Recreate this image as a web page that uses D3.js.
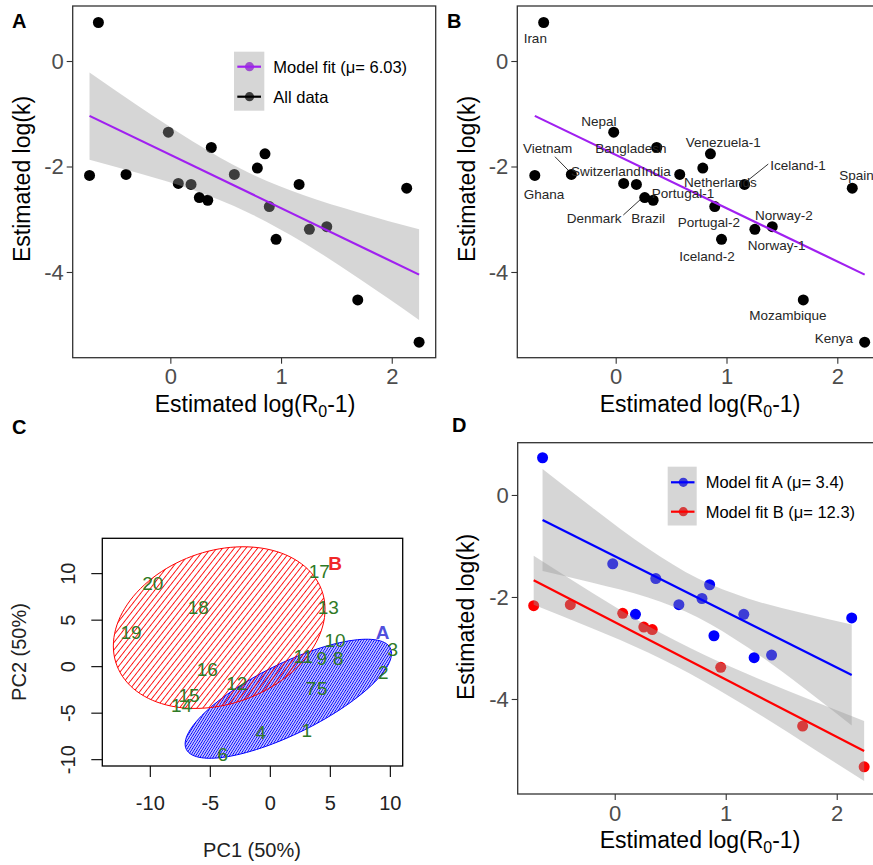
<!DOCTYPE html>
<html><head><meta charset="utf-8">
<script src="https://cdn.jsdelivr.net/npm/d3@7"></script>
<style>
body{margin:0;background:#fff}
svg{display:block}
</style></head><body>
<svg id="chart" width="873" height="865"></svg>
<script>
// ---------------- DATA ----------------
const countries = ["Iran","Ghana","Vietnam","Nepal","Switzerland","Portugal-1","Denmark","Brazil","Bangladesh","India","Netherlands","Venezuela-1","Portugal-2","Iceland-2","Iceland-1","Norway-1","Norway-2","Mozambique","Spain","Kenya"];
const logR0m1 = [-0.65,-0.73,-0.40,-0.018,0.072,0.187,0.262,0.338,0.37,0.578,0.786,0.855,0.894,0.955,1.163,1.256,1.413,1.693,2.135,2.247];
const logK    = [0.73,-2.17,-2.15,-1.35,-2.32,-2.34,-2.59,-2.64,-1.64,-2.15,-2.03,-1.76,-2.76,-3.38,-2.34,-3.19,-3.14,-4.53,-2.41,-5.33];
const cluster = ["A","B","B","A","B","A","B","B","A","A","A","A","A","B","A","A","A","B","A","B"];

// overall model fit (panel A/B) and confidence band
const fitX  = [-0.73,-0.3,0.2,0.7,1.2,1.7,2.247];
const fitY  = [-1.04,-1.48,-1.98,-2.49,-2.99,-3.50,-4.05];
const fitLo = [-1.87,-2.12,-2.44,-2.87,-3.44,-4.12,-4.91];
const fitHi = [-0.22,-0.84,-1.52,-2.11,-2.54,-2.87,-3.19];

// cluster fits (panel D)
const fitAX  = [-0.65,-0.2,0.3,0.75,1.2,1.7,2.135];
const fitAY  = [-0.49,-0.98,-1.53,-2.02,-2.51,-3.05,-3.53];
const fitAHi = [0.51,-0.25,-1.05,-1.64,-2.03,-2.32,-2.54];
const fitALo = [-1.49,-1.72,-2.01,-2.40,-2.99,-3.78,-4.52];
const fitBX  = [-0.73,-0.2,0.3,0.8,1.3,1.8,2.247];
const fitBY  = [-1.67,-2.27,-2.83,-3.39,-3.96,-4.52,-5.02];
const fitBHi = [-1.19,-1.92,-2.57,-3.13,-3.61,-4.05,-4.43];
const fitBLo = [-2.15,-2.62,-3.09,-3.65,-4.30,-4.99,-5.61];

// PCA (panel C)
const pcIds = ["1","2","3","4","5","6","7","8","9","10","11","12","13","14","15","16","17","18","19","20"];
const pc1 = [3.03,9.42,10.2,-0.8,4.33,-3.97,3.39,5.67,4.28,5.39,2.75,-2.8,4.83,-7.4,-6.78,-5.25,4.08,-6.0,-11.6,-9.8];
const pc2 = [-6.8,-0.54,1.9,-6.99,-2.32,-9.42,-2.32,0.9,0.9,2.87,1.08,-1.79,6.39,-4.19,-3.04,-0.28,10.3,6.39,3.66,9.03];
const ellGroup = ["A","B"];
const ellCx = [1.5,-4.26];
const ellCy = [-3.45,4.2];
const ellRx = [8.6,8.82];
const ellRy = [6.4,8.69];
const ellTilt = [0.863,0.229];
const groupLabelX = [9.35,5.39];
const groupLabelY = [3.76,11.1];

// ticks / text
const xTicksK = [0,1,2];
const yTicksK = [0,-2,-4];
const pcTicks = [-10,-5,0,5,10];
const legendA = ["Model fit (\u03bc= 6.03)","All data"];
const legendD = ["Model fit A (\u03bc= 3.4)","Model fit B (\u03bc= 12.3)"];
const panelLetters = ["A","B","C","D"];

// label layout for panel B (pixel offsets from point)
const labDx = [-8.4,9.2,-23.7,-14.9,-17.7,46.6,-50.7,-5.1,-25.9,-23.7,17.7,12.9,-5.8,-14.5,53.4,21.8,11.7,-15.3,4.3,-30.7];
const labDy = [20.2,23.8,-21.7,-6.5,-7.4,13.9,25.7,23,5.2,1.6,19.2,-6.5,20.7,21.4,-14.4,20.7,-6.6,20,-8.1,1.1];
const connectors = {"Vietnam":[-16.4,-17.7,-3,-4],"Denmark":[-21.4,17.4,-3,0.7],"Iceland-1":[23.7,-20.4,3.7,-4.4]};

// ---------------- DRAWING ----------------
const FONT = "Arial, 'Liberation Sans', Helvetica, sans-serif";
const svg = d3.select("#chart").attr("font-family", FONT);
const PURPLE = "#A020F0", BLUE = "#0000FF", RED = "#FF0000";
const pts = countries.map((c,i)=>({c, x:logR0m1[i], y:logK[i], g:cluster[i], dx:labDx[i], dy:labDy[i]}));

function ggAxes(g, x, y, box){
  const xa = g.append("g").attr("transform",`translate(0,${box.y1})`)
    .call(d3.axisBottom(x).tickValues(xTicksK).tickSize(6).tickPadding(5).tickFormat(d=>String(d)));
  const ya = g.append("g").attr("transform",`translate(${box.x0},0)`)
    .call(d3.axisLeft(y).tickValues(yTicksK).tickSize(6).tickPadding(3).tickFormat(d=>String(d)));
  [xa,ya].forEach(a=>{
    a.select(".domain").remove();
    a.selectAll("line").attr("stroke","#333").attr("stroke-width",1.1);
    a.selectAll("text").attr("fill","#4d4d4d").attr("font-size",22).attr("font-family",FONT);
  });
  g.append("rect").attr("x",box.x0).attr("y",box.y0).attr("width",box.x1-box.x0).attr("height",box.y1-box.y0)
    .attr("fill","none").attr("stroke","#333").attr("stroke-width",1.3);
}
function xTitle(g, cx, by){
  const t = g.append("text").attr("x",cx).attr("y",by).attr("text-anchor","middle").attr("font-size",23).attr("fill","#000");
  t.append("tspan").text("Estimated log(R");
  t.append("tspan").attr("font-size",16).attr("dy",5).text("0");
  t.append("tspan").attr("dy",-5).text("-1)");
}
function yTitle(g, bx, cy){
  g.append("text").attr("transform",`translate(${bx},${cy}) rotate(-90)`).attr("text-anchor","middle")
    .attr("font-size",23).attr("fill","#000").text("Estimated log(k)");
}
function band(g, x, y, xs, lo, hi){
  const area = d3.area().x((d,i)=>x(xs[i])).y0((d,i)=>y(lo[i])).y1((d,i)=>y(hi[i])).curve(d3.curveMonotoneX);
  g.append("path").attr("d",area(xs)).attr("fill","#999").attr("fill-opacity",0.4);
}
function fitLine(g, x, y, xs, ys, col){
  g.append("line").attr("x1",x(xs[0])).attr("y1",y(ys[0])).attr("x2",x(xs[xs.length-1])).attr("y2",y(ys[ys.length-1]))
    .attr("stroke",col).attr("stroke-width",2.2);
}
function letter(t, x, y){
  svg.append("text").attr("x",x).attr("y",y).attr("font-size",20).attr("font-weight","bold").attr("fill","#000").text(t);
}

// ----- Panel A -----
{
  const box = {x0:72.7, x1:435.7, y0:6, y1:357.7};
  const x = d3.scaleLinear().domain([-0.882,2.397]).range([box.x0,box.x1]);
  const y = d3.scaleLinear().domain([1.043,-5.625]).range([box.y0,box.y1]);
  const g = svg.append("g");
  g.selectAll("circle").data(pts).join("circle").attr("cx",d=>x(d.x)).attr("cy",d=>y(d.y)).attr("r",5.5).attr("fill","#000");
  band(g,x,y,fitX,fitLo,fitHi);
  fitLine(g,x,y,fitX,fitY,PURPLE);
  ggAxes(g,x,y,box);
  xTitle(g,255,412);
  yTitle(g,30,179);
  const lg = g.append("g");
  const cols = [PURPLE,"#000"];
  legendA.forEach((t,i)=>{
    lg.append("circle").attr("cx",249.5).attr("cy",66.7 + i*30).attr("r",4.6).attr("fill",cols[i]);
  });
  lg.append("rect").attr("x",234).attr("y",51.7).attr("width",30.3).attr("height",59).attr("fill","#999").attr("fill-opacity",0.4);
  legendA.forEach((t,i)=>{
    const cy = 66.7 + i*30;
    lg.append("line").attr("x1",237.3).attr("x2",261).attr("y1",cy).attr("y2",cy).attr("stroke",cols[i]).attr("stroke-width",2.2);
    lg.append("text").attr("x",273.3).attr("y",cy+6).attr("font-size",16.5).attr("fill","#000").text(t);
  });
  letter(panelLetters[0],12,28);
}

// ----- Panel B -----
{
  const box = {x0:517.3, x1:880.3, y0:6, y1:357.7};
  const x = d3.scaleLinear().domain([-0.888,2.388]).range([box.x0,box.x1]);
  const y = d3.scaleLinear().domain([1.043,-5.625]).range([box.y0,box.y1]);
  const g = svg.append("g");
  g.selectAll("line.conn").data(pts.filter(d=>connectors[d.c])).join("line").attr("class","conn")
    .attr("x1",d=>x(d.x)+connectors[d.c][0]).attr("y1",d=>y(d.y)+connectors[d.c][1])
    .attr("x2",d=>x(d.x)+connectors[d.c][2]).attr("y2",d=>y(d.y)+connectors[d.c][3])
    .attr("stroke","#000").attr("stroke-width",0.8);
  g.selectAll("circle").data(pts).join("circle").attr("cx",d=>x(d.x)).attr("cy",d=>y(d.y)).attr("r",5.5).attr("fill","#000");
  fitLine(g,x,y,fitX,fitY,PURPLE);
  g.selectAll("text.lab").data(pts).join("text").attr("class","lab")
    .attr("x",d=>x(d.x)+d.dx).attr("y",d=>y(d.y)+d.dy).attr("text-anchor","middle")
    .attr("font-size",13.5).attr("fill","#262626").text(d=>d.c);
  ggAxes(g,x,y,box);
  xTitle(g,700,412);
  yTitle(g,475,179);
  letter(panelLetters[1],447,28);
}

// ----- Panel C -----
{
  const box = {x0:102.3, x1:402.7, y0:538.3, y1:766};
  const x = d3.scaleLinear().domain([-14.0,11.03]).range([box.x0,box.x1]);
  const y = d3.scaleLinear().domain([13.8,-10.68]).range([box.y0,box.y1]);
  const g = svg.append("g");
  const defs = svg.append("defs");
  const pat = (id, col, sp, ang, w) => {
    const p = defs.append("pattern").attr("id",id).attr("patternUnits","userSpaceOnUse")
      .attr("width",20).attr("height",sp).attr("patternTransform",`rotate(${ang})`);
    p.append("line").attr("x1",0).attr("x2",20).attr("y1",sp/2).attr("y2",sp/2).attr("stroke",col).attr("stroke-width",w);
  };
  pat("hatchA",BLUE,2.2,-58,1.1);
  pat("hatchB",RED,4.6,-52,0.9);
  const ells = ellGroup.map((gname,i)=>({g:gname, cx:ellCx[i], cy:ellCy[i], rx:ellRx[i], ry:ellRy[i], t:ellTilt[i]}));
  const ellPath = e => {
    const n = 120;
    const p = d3.range(n).map(k=>{ const a = 2*Math.PI*k/n; return [x(e.cx + e.rx*Math.cos(a)), y(e.cy + e.ry*Math.sin(a+e.t))]; });
    return d3.line()(p) + "Z";
  };
  ells.forEach(e=>{
    const col = e.g==="A"?BLUE:RED;
    g.append("path").attr("d",ellPath(e)).attr("fill",`url(#hatch${e.g})`).attr("stroke",col).attr("stroke-width",1);
  });
  g.append("rect").attr("x",box.x0).attr("y",box.y0).attr("width",box.x1-box.x0).attr("height",box.y1-box.y0)
    .attr("fill","none").attr("stroke","#000").attr("stroke-width",1.3);
  pcTicks.forEach(t=>{
    g.append("line").attr("x1",x(t)).attr("x2",x(t)).attr("y1",box.y1).attr("y2",box.y1+11).attr("stroke","#000").attr("stroke-width",1.1);
    g.append("text").attr("x",x(t)).attr("y",810).attr("text-anchor","middle").attr("font-size",20).attr("fill","#222").text(String(t));
    g.append("line").attr("y1",y(t)).attr("y2",y(t)).attr("x1",box.x0).attr("x2",box.x0-11).attr("stroke","#000").attr("stroke-width",1.1);
    g.append("text").attr("transform",`translate(75,${y(t)}) rotate(-90)`).attr("text-anchor","middle").attr("font-size",20).attr("fill","#222").text(String(t));
  });
  g.append("text").attr("x",252).attr("y",857).attr("text-anchor","middle").attr("font-size",20).attr("fill","#222").text("PC1 (50%)");
  g.append("text").attr("transform",`translate(26,652) rotate(-90)`).attr("text-anchor","middle").attr("font-size",20).attr("fill","#222").text("PC2 (50%)");
  g.selectAll("text.pc").data(pcIds).join("text").attr("class","pc")
    .attr("x",(d,i)=>x(pc1[i])).attr("y",(d,i)=>y(pc2[i])).attr("dy","0.36em").attr("text-anchor","middle")
    .attr("font-size",19).attr("fill","#2f7a26").text(d=>d);
  ellGroup.forEach((gname,i)=>{
    g.append("text").attr("x",x(groupLabelX[i])).attr("y",y(groupLabelY[i])).attr("dy","0.36em").attr("text-anchor","middle")
      .attr("font-size",19).attr("font-weight","bold").attr("fill",gname==="A"?"#5050dd":"#f02828").text(gname);
  });
  letter(panelLetters[2],12,434);
}

// ----- Panel D -----
{
  const box = {x0:517.7, x1:880.8, y0:442.7, y1:794};
  const x = d3.scaleLinear().domain([-0.874,2.397]).range([box.x0,box.x1]);
  const y = d3.scaleLinear().domain([1.025,-5.863]).range([box.y0,box.y1]);
  const g = svg.append("g");
  g.selectAll("circle").data(pts).join("circle").attr("cx",d=>x(d.x)).attr("cy",d=>y(d.y)).attr("r",5.5)
    .attr("fill",d=>d.g==="A"?BLUE:RED);
  band(g,x,y,fitAX,fitALo,fitAHi);
  band(g,x,y,fitBX,fitBLo,fitBHi);
  fitLine(g,x,y,fitAX,fitAY,BLUE);
  fitLine(g,x,y,fitBX,fitBY,RED);
  ggAxes(g,x,y,box);
  xTitle(g,700,848);
  yTitle(g,474,617);
  const lg = g.append("g");
  const cols = [BLUE,RED];
  legendD.forEach((t,i)=>{
    lg.append("circle").attr("cx",683.3).attr("cy",482.3+i*29.4).attr("r",4.6).attr("fill",cols[i]);
  });
  lg.append("rect").attr("x",667.7).attr("y",466.7).attr("width",29).attr("height",58.8).attr("fill","#999").attr("fill-opacity",0.4);
  legendD.forEach((t,i)=>{
    const cy = 482.3+i*29.4;
    lg.append("line").attr("x1",671).attr("x2",694.5).attr("y1",cy).attr("y2",cy).attr("stroke",cols[i]).attr("stroke-width",2.2);
    lg.append("text").attr("x",705.7).attr("y",cy+6).attr("font-size",16.5).attr("fill","#000").text(t);
  });
  letter(panelLetters[3],452,432);
}
</script>
</body></html>
